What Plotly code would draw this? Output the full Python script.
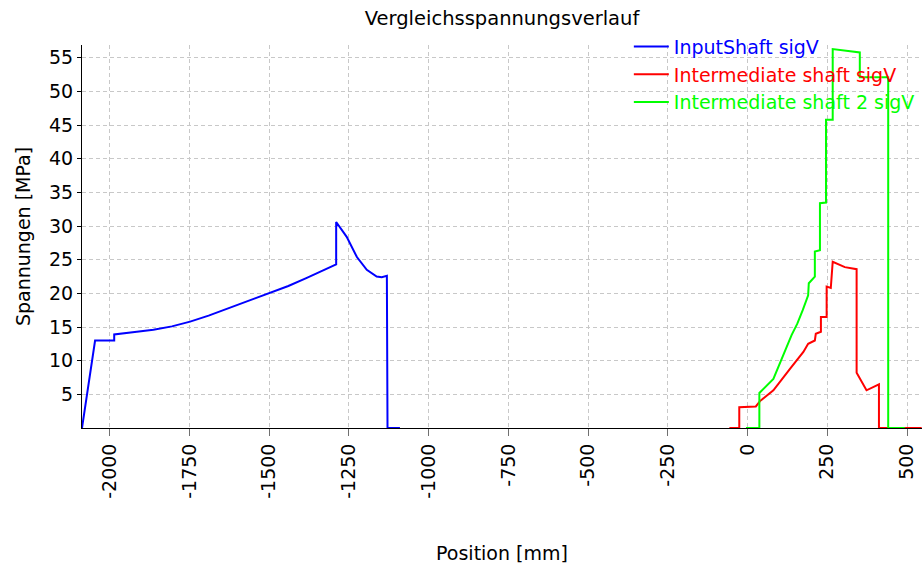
import plotly.graph_objects as go

# ---- data ----
input_x = [-2087, -2046, -1986, -1986, -1915, -1863, -1805, -1748, -1690, -1633, -1570,
           -1502, -1440, -1382, -1290, -1290, -1257, -1225, -1194, -1163, -1147, -1131,
           -1129, -1090]
input_y = [0, 13.0, 13.0, 13.9, 14.3, 14.6, 15.1, 15.8, 16.7, 17.7, 18.8,
           19.9, 21.1, 22.3, 24.3, 30.6, 28.4, 25.4, 23.5, 22.5, 22.4, 22.6,
           0, 0]

inter_x = [-57, -26, -26, 26, 39, 81, 133, 175, 190, 205, 211, 214, 230, 230,
           248, 248, 261, 267, 305, 342, 342, 373, 412, 412, 546]
inter_y = [0, 0, 3.1, 3.2, 4.0, 5.6, 8.8, 11.3, 12.5, 12.8, 13.0, 14.0, 14.3, 16.5,
           16.5, 21.0, 20.8, 24.7, 23.9, 23.6, 8.2, 5.6, 6.5, 0, 0]

inter2_x = [-5, 37, 37, 81, 138, 156, 173, 190, 192, 211, 211, 227, 227, 246,
            246, 267, 267, 311, 352, 352, 441, 441, 493]
inter2_y = [0, 0, 5.2, 7.3, 13.8, 15.5, 17.5, 19.7, 21.5, 22.5, 26.2, 26.4, 33.4, 33.5,
            45.8, 45.8, 56.3, 56.0, 55.8, 52.1, 52.1, 0, 0]

series_names = ["InputShaft sigV", "Intermediate shaft sigV", "Intermediate shaft 2 sigV"]
series_colors = ["#0000ff", "#ff0000", "#00ff00"]

x_ticks = [-2000, -1750, -1500, -1250, -1000, -750, -500, -250, 0, 250, 500]
y_ticks = [5, 10, 15, 20, 25, 30, 35, 40, 45, 50, 55]

FONT = "DejaVu Sans"

fig = go.Figure()
for xs, ys, name, col in zip([input_x, inter_x, inter2_x], [input_y, inter_y, inter2_y],
                             series_names, series_colors):
    fig.add_trace(go.Scatter(
        x=xs, y=ys, mode="lines", line=dict(color=col, width=2),
        name=f"<span style='color:{col}'>{name}</span>",
    ))

grid = dict(showgrid=True, gridcolor="#c8c8c8", gridwidth=1, griddash="4px,3px")

fig.update_layout(
    width=922, height=569,
    paper_bgcolor="white", plot_bgcolor="white",
    margin=dict(l=82, r=0, t=45, b=141, autoexpand=False),
    font=dict(family=FONT, size=19, color="black"),
    title=dict(text="Vergleichsspannungsverlauf", x=0.5, xref="paper",
               y=0.968, yanchor="middle", font=dict(family=FONT, size=19.5, color="black")),
    showlegend=True,
    legend=dict(x=0.651, y=1.045, xanchor="left", yanchor="top", itemwidth=35,
                bgcolor="rgba(0,0,0,0)", borderwidth=0,
                font=dict(family=FONT, size=19)),
    xaxis=dict(range=[-2087, 547], tickvals=x_ticks, ticktext=[str(v) for v in x_ticks],
               tickangle=-90, ticks="outside", ticklen=7, tickcolor="#707070",
               showline=True, linecolor="black", linewidth=1, zeroline=False,
               automargin=False,
               title=dict(text="Position [mm]", standoff=48, font=dict(size=19)),
               **grid),
    yaxis=dict(range=[0, 56.9], tickvals=y_ticks, ticktext=[str(v) for v in y_ticks],
               ticks="outside", ticklen=4, tickcolor="black",
               showline=True, linecolor="black", linewidth=1, zeroline=False,
               automargin=False,
               title=dict(text="Spannungen [MPa]", standoff=13, font=dict(size=19)),
               **grid),
)

fig.write_html("out.html", config={"displayModeBar": False},
               post_script="document.body.style.margin='0';document.body.style.overflow='hidden';")
